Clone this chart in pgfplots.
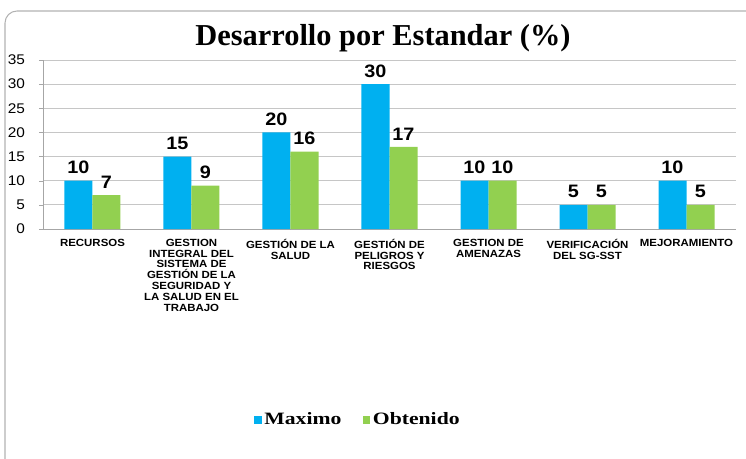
\documentclass[border=0pt]{standalone}
\usepackage{fontspec}
\setmainfont{Liberation Sans}
\newfontfamily\serifbf{Liberation Serif}
\newfontfamily\serifwide[FakeStretch=1.25]{Liberation Serif}
\newfontfamily\sanswide[FakeStretch=1.1]{Liberation Sans}
\usepackage{pgfplots}
\pgfplotsset{compat=1.18}
\definecolor{cblue}{HTML}{00B0F0}
\definecolor{cgreen}{HTML}{92D050}
\begin{document}
\begin{tikzpicture}[x=0.75pt,y=0.75pt]
\path[use as bounding box] (0,0) rectangle (746,458);
\begin{scope}
\clip (0,0) rectangle (746,458);
\draw[gray!60, line width=0.8pt, rounded corners=9pt] (5,-30) rectangle (800,447);
\end{scope}
\node[font=\serifbf\bfseries\fontsize{22.8}{26}\selectfont] at (383,420) {Desarrollo por Estandar (\%)};
\begin{axis}[
  at={(32.25pt,171.75pt)}, anchor=south west,
  scale only axis,
  width=519.75pt, height=126.75pt,
  ybar=0pt, bar width=21pt,
  xmin=-0.5, xmax=6.5,
  ymin=0, ymax=35,
  ytick={0,5,...,35},
  xtick={0,...,6},
  xticklabels={RECURSOS,
    {GESTION\\INTEGRAL DEL\\SISTEMA DE\\GESTIÓN DE LA\\SEGURIDAD Y\\LA SALUD EN EL\\TRABAJO},
    {GESTIÓN DE LA\\SALUD},
    {GESTIÓN DE\\PELIGROS Y\\RIESGOS},
    {GESTION DE\\AMENAZAS},
    {VERIFICACIÓN\\DEL SG-SST},
    MEJORAMIENTO},
  xticklabel style={align=center, font=\sanswide\fontsize{7.8}{8.1}\selectfont\bfseries, anchor=north, yshift=-1pt},
  yticklabel style={font=\sanswide\fontsize{10.5}{11}\selectfont, anchor=east, xshift=-7pt},
  /pgf/number format/assume math mode=true,
  axis lines*=left,
  axis line style={gray!70, line width=0.6pt},
  ymajorgrids, grid style={gray!45, line width=0.6pt},
  x tick style={draw=none},
  y tick style={gray!70},
  tick align=outside, major tick length=3pt,
  enlargelimits=false,
  nodes near coords,
  every node near coord/.append style={font=\sanswide\fontsize{13.5}{15}\selectfont\bfseries, text=black, yshift=1.5pt},
  legend style={at={(0.455,-1.13)}, anchor=center, draw=none, legend columns=2,
    font=\serifwide\bfseries\fontsize{13}{14}\selectfont,
    /tikz/every even column/.append style={column sep=14pt}},
  legend image code/.code={\fill[#1] (0pt,-2.8pt) rectangle (5.6pt,2.8pt);},
]
\addplot[fill=cblue, draw=none] coordinates {(0,10) (1,15) (2,20) (3,30) (4,10) (5,5) (6,10)};
\addplot[fill=cgreen, draw=none] coordinates {(0,7) (1,9) (2,16) (3,17) (4,10) (5,5) (6,5)};
\legend{Maximo, Obtenido}
\end{axis}
\end{tikzpicture}
\end{document}
